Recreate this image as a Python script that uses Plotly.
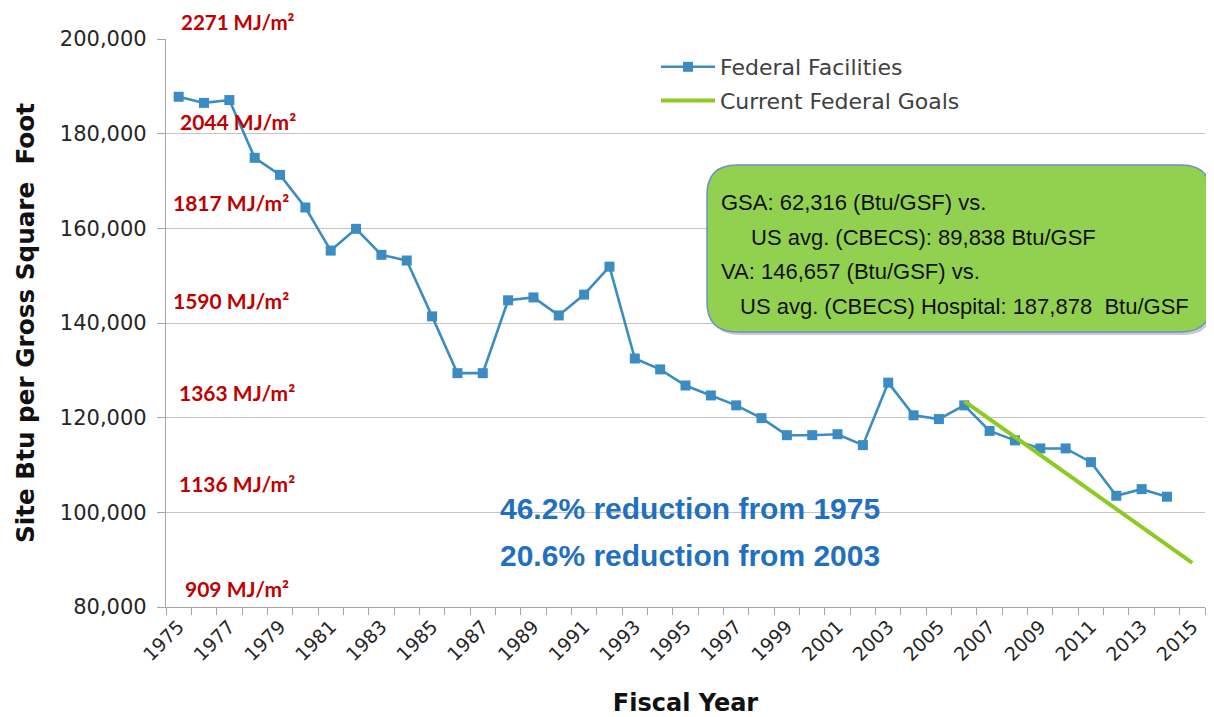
import plotly.graph_objects as go

# ---------------- data ----------------
years = list(range(1975, 2015))
btu_per_gsf = [187800, 186500, 187100, 174900, 171300, 164400, 155300, 159900,
               154400, 153200, 141400, 129400, 129400, 144800, 145400, 141600,
               146000, 151900, 132500, 130200, 126800, 124700, 122600, 119900,
               116300, 116300, 116500, 114200, 127400, 120500, 119700, 122600,
               117200, 115200, 113500, 113500, 110600, 103500, 104900, 103300]
goal_years = [2006, 2015]
goal_values = [123500, 89300]

tick_years = list(range(1975, 2016, 2))
tick_text = [str(y) for y in tick_years]

mj_labels = ["2271 MJ/m²", "2044 MJ/m²", "1817 MJ/m²", "1590 MJ/m²",
             "1363 MJ/m²", "1136 MJ/m²", "909 MJ/m²"]
reduction_lines = ["46.2% reduction from 1975", "20.6% reduction from 2003"]
box_lines = ["GSA: 62,316 (Btu/GSF) vs.",
             "US avg. (CBECS): 89,838 Btu/GSF",
             "VA: 146,657 (Btu/GSF) vs.",
             "US avg. (CBECS) Hospital: 187,878\u00a0\u00a0Btu/GSF"]

# ---------------- layout geometry (screen pixels) ----------------
OFF = 8  # page body margin
W, H = 1214, 717
PLOT_L, PLOT_R, PLOT_T, PLOT_B = 166, 1205, 39, 607
PW, PH = PLOT_R - PLOT_L, PLOT_B - PLOT_T
FIG_W, FIG_H = W - OFF, H - OFF
ML, MT = PLOT_L - OFF, PLOT_T - OFF
MR = FIG_W - (PLOT_R - OFF)
MB = FIG_H - (PLOT_B - OFF)


def px(x):
    return (x - PLOT_L) / PW


def py(y):
    return (PLOT_B - y) / PH


def rrect_path(x0, y0, x1, y1, r):
    pts = [
        ("M", [(x0 + r, y0)]),
        ("L", [(x1 - r, y0)]),
        ("Q", [(x1, y0), (x1, y0 + r)]),
        ("L", [(x1, y1 - r)]),
        ("Q", [(x1, y1), (x1 - r, y1)]),
        ("L", [(x0 + r, y1)]),
        ("Q", [(x0, y1), (x0, y1 - r)]),
        ("L", [(x0, y0 + r)]),
        ("Q", [(x0, y0), (x0 + r, y0)]),
    ]
    s = ""
    for cmd, ps in pts:
        s += cmd + " " + " ".join(f"{px(a):.5f},{py(b):.5f}" for a, b in ps) + " "
    return s + "Z"


fig = go.Figure()
fig.add_trace(go.Scatter(
    x=years, y=btu_per_gsf, mode="lines+markers", name="Federal Facilities",
    line=dict(color="#3A8CC2", width=2.6),
    marker=dict(symbol="square", size=10, color="#3A8CC2"),
    legendgroup="a"))
fig.add_trace(go.Scatter(
    x=goal_years, y=goal_values, mode="lines", name="Current Federal Goals",
    line=dict(color="#8DCB23", width=4), legendgroup="b"))

annotations = []
mj_pos = [(238, 122), (231, 203), (231, 300), (237, 392), (237, 483), (237, 588)]
# top label sits above the plot area: anchor its top just inside the figure
annotations.append(dict(text=mj_labels[0], x=px(238), y=py(9), xref="paper", yref="paper",
                        showarrow=False, xanchor="center", yanchor="top", borderpad=0,
                        font=dict(family="Lato", size=20.5, color="#C00000", weight="bold")))
for t, (x, y) in zip(mj_labels[1:], mj_pos):
    annotations.append(dict(text=t, x=px(x), y=py(y), xref="paper", yref="paper",
                            showarrow=False, xanchor="center", yanchor="middle",
                            font=dict(family="Lato", size=21, color="#C00000", weight="bold")))
for t, y in zip(reduction_lines, [508, 555]):
    annotations.append(dict(text=t, x=px(690), y=py(y), xref="paper", yref="paper",
                            showarrow=False, xanchor="center", yanchor="middle",
                            font=dict(family="Liberation Sans", size=30, color="#1F70C1",
                                      weight="bold")))
box_pos = [(719, 203), (749, 237), (719, 271), (738, 306)]
for t, (x, y) in zip(box_lines, box_pos):
    annotations.append(dict(text=t, x=px(x), y=py(y), xref="paper", yref="paper",
                            showarrow=False, xanchor="left", yanchor="middle",
                            font=dict(family="Liberation Sans", size=22, color="#111111")))

shapes = [
    dict(type="path", xref="paper", yref="paper", layer="above",
         path=rrect_path(710, 168, 1213, 335, 30),
         fillcolor="rgba(80,80,80,0.30)", line=dict(width=0)),
    dict(type="path", xref="paper", yref="paper", layer="above",
         path=rrect_path(707, 165, 1211, 332, 30),
         fillcolor="#92D050", line=dict(color="#6F8FC6", width=1.5)),
]

fig.update_layout(
    width=FIG_W, height=FIG_H,
    margin=dict(l=ML, r=MR, t=MT, b=MB, pad=0, autoexpand=False),
    paper_bgcolor="white", plot_bgcolor="white",
    font=dict(family="DejaVu Sans", color="#262626"),
    showlegend=True,
    legend=dict(x=px(656), y=py(46), xanchor="left", yanchor="top",
                bgcolor="rgba(0,0,0,0)", font=dict(family="DejaVu Sans", size=22, color="#404040"),
                traceorder="grouped", tracegroupgap=2, itemwidth=54),
    annotations=annotations,
    shapes=shapes,
    xaxis=dict(
        range=[1974.5, 2015.5], tickmode="array", tickvals=tick_years, ticktext=tick_text,
        tickangle=-45, ticks="", showgrid=False, zeroline=False, automargin=False,
        showline=True, linecolor="#A6A6A6", linewidth=1.3,
        tickfont=dict(family="DejaVu Sans", size=19, color="#262626"),
        minor=dict(tick0=1974.5, dtick=1, ticks="outside", ticklen=7,
                   tickcolor="#A6A6A6", tickwidth=1.3, showgrid=False),
        title=dict(text="Fiscal Year", standoff=32,
                   font=dict(family="DejaVu Sans", size=24, color="#111111", weight="bold")),
    ),
    yaxis=dict(
        range=[80000, 200000], dtick=20000, tickformat=",", ticks="outside", ticklen=8,
        tickcolor="#A6A6A6", tickwidth=1.3, showgrid=True, gridcolor="#C4C4C4", gridwidth=1.4,
        zeroline=False, showline=True, linecolor="#A6A6A6", linewidth=1.3, automargin=False,
        ticklabelstandoff=6,
        tickfont=dict(family="DejaVu Sans", size=21, color="#262626"),
        title=dict(text="Site Btu per Gross Square\u00a0\u00a0Foot", standoff=18,
                   font=dict(family="DejaVu Sans", size=24.7, color="#111111", weight="bold")),
    ),
)

fig.write_html("out.html")
